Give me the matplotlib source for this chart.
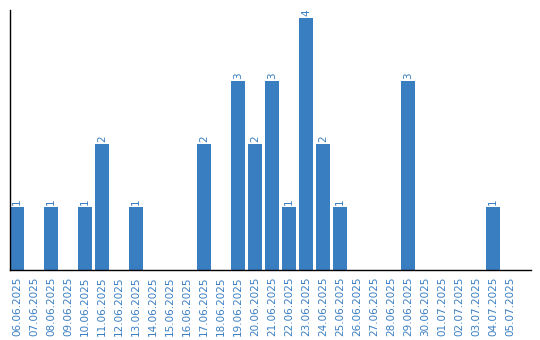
import matplotlib
matplotlib.use("Agg")
import matplotlib.pyplot as plt

dates = ["06.06.2025", "07.06.2025", "08.06.2025", "09.06.2025", "10.06.2025",
         "11.06.2025", "12.06.2025", "13.06.2025", "14.06.2025", "15.06.2025",
         "16.06.2025", "17.06.2025", "18.06.2025", "19.06.2025", "20.06.2025",
         "21.06.2025", "22.06.2025", "23.06.2025", "24.06.2025", "25.06.2025",
         "26.06.2025", "27.06.2025", "28.06.2025", "29.06.2025", "30.06.2025",
         "01.07.2025", "02.07.2025", "03.07.2025", "04.07.2025", "05.07.2025"]
values = [1, 0, 1, 0, 1, 2, 0, 1, 0, 0, 0, 2, 0, 3, 2, 3, 1, 4, 2, 1,
          0, 0, 0, 3, 0, 0, 0, 0, 1, 0]

color = "#3a7ec2"
fig = plt.figure(figsize=(5.4, 3.4), dpi=100)
ax = fig.add_axes([10/540, 1-270/340, 521/540, 260/340])
x = list(range(len(values)))
bars = ax.bar(x, values, width=0.82, color=color)
for xi, v in zip(x, values):
    if v > 0:
        ax.text(xi, v + 0.03, str(v), rotation=90, ha="center", va="bottom",
                color=color, fontsize=7.5, family="DejaVu Sans")
ax.set_xlim(-0.41, 30.24)
ax.set_ylim(0, 4.13)
ax.set_xticks(x)
ax.set_xticklabels(dates, rotation=90, color=color, fontsize=7.5, family="DejaVu Sans")
ax.tick_params(axis="x", length=0, pad=5)
ax.set_yticks([])
for s in ["top", "right"]:
    ax.spines[s].set_visible(False)
ax.spines["left"].set_linewidth(1)
ax.spines["bottom"].set_linewidth(1)
fig.savefig("out.png", dpi=100)
